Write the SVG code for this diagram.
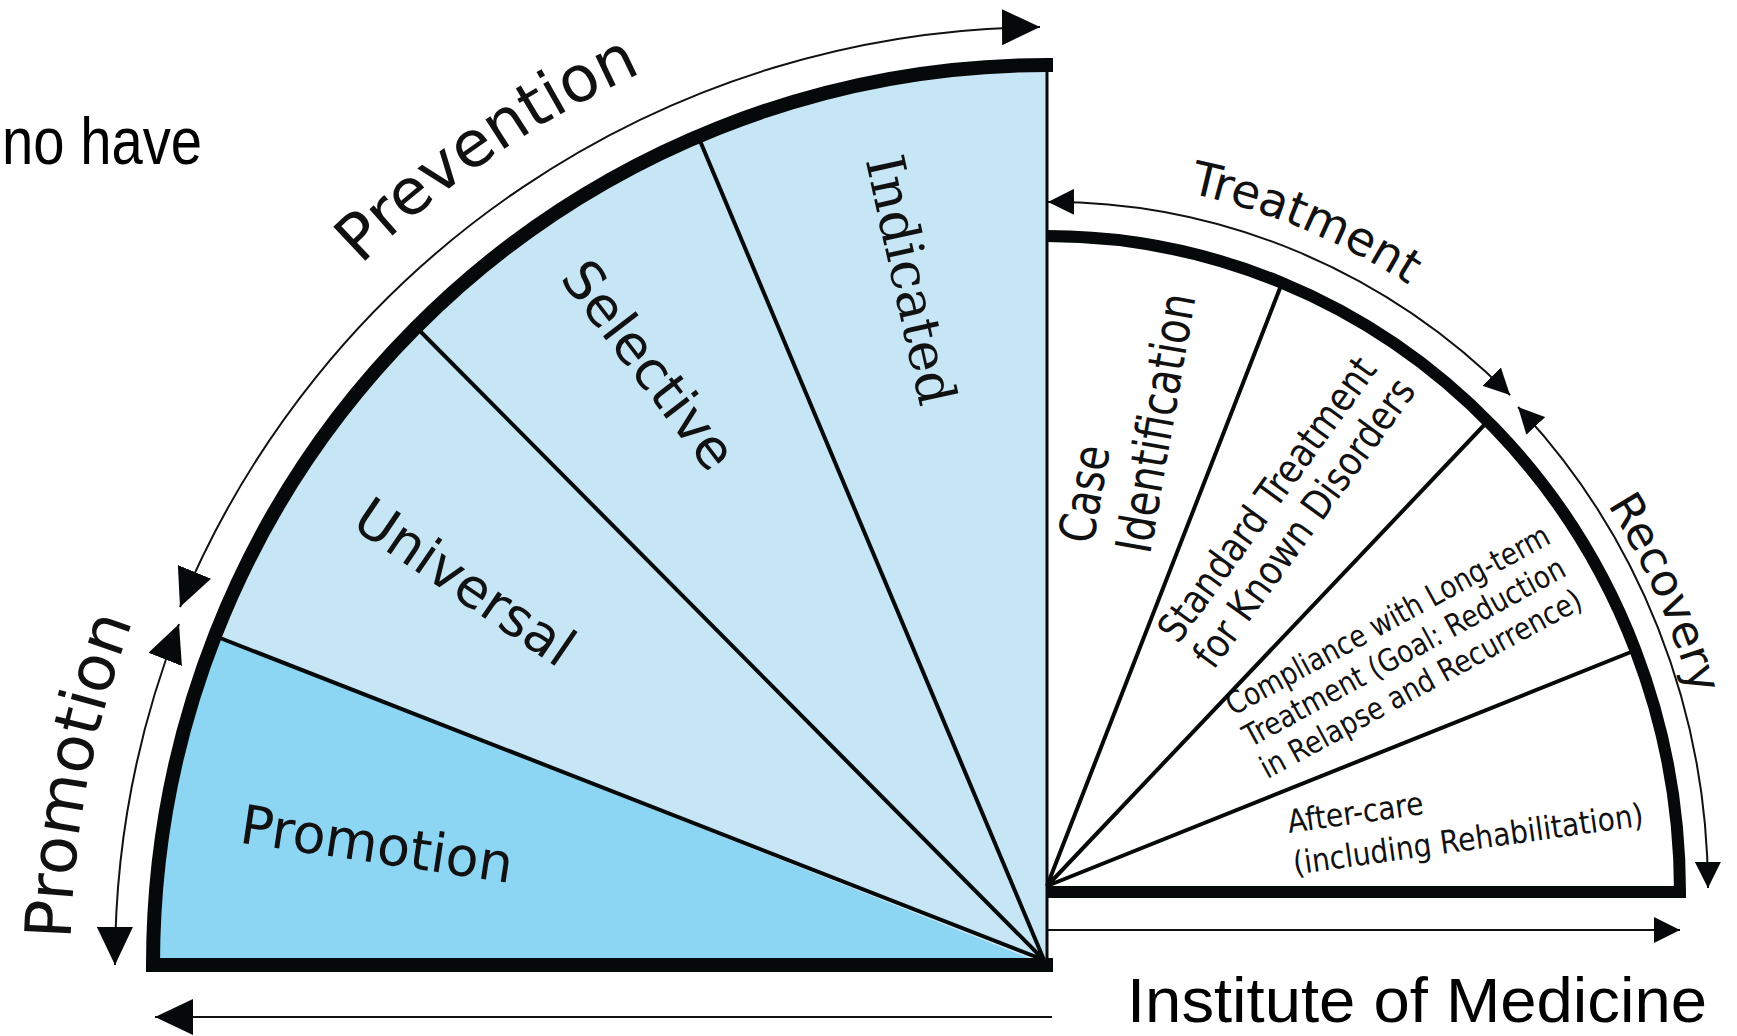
<svg xmlns="http://www.w3.org/2000/svg" xmlns:xlink="http://www.w3.org/1999/xlink" width="1737" height="1036" viewBox="0 0 1737 1036">
<defs>
<style>
.light{fill:#c6e6f6}
.promo{fill:#8cd5f3}
.white{fill:#ffffff}
.thick{fill:none;stroke:#060909;stroke-linejoin:miter;stroke-linecap:butt}
.div{fill:none;stroke:#060909;stroke-width:4}
.thin{fill:none;stroke:#111111;stroke-width:2}
.lbl{font-family:"DejaVu Sans",Verdana,sans-serif;fill:#111111}
.serif{font-family:"DejaVu Serif",serif;fill:#111111}
.slide{font-family:"Liberation Sans",Arial,sans-serif;fill:#000000}
.big{marker-start:url(#ahBig);marker-end:url(#ahBig)}
.small{marker-start:url(#ahSmall);marker-end:url(#ahSmall)}
</style>
<marker id="ahBig" markerUnits="userSpaceOnUse" viewBox="0 0 38 36" markerWidth="38" markerHeight="36" refX="38" refY="18" orient="auto-start-reverse">
<path d="M0,0 L38,18 L0,36 Z" fill="#060909"/>
</marker>
<marker id="ahSmall" markerUnits="userSpaceOnUse" viewBox="0 0 26 26" markerWidth="26" markerHeight="26" refX="26" refY="13" orient="auto-start-reverse">
<path d="M0,0 L26,13 L0,26 Z" fill="#060909"/>
</marker>
<path id="pPrev" d="M361,265 A980,980 0 0 1 1047,-15" fill="none"/>
<path id="pPromo" d="M70.6,939.4 A977,977 0 0 1 298.8,337.2" fill="none"/>
<path id="pTreat" d="M1189,193 A686,715 0 0 1 1733,892" fill="none"/>
<path id="pRec" d="M1607.3,505 A672,701 0 0 1 1719,892" fill="none"/>
</defs>
<rect x="0" y="0" width="1737" height="1036" fill="#ffffff"/>

<text class="slide" x="2" y="164" font-size="66" textLength="200" lengthAdjust="spacingAndGlyphs">no have</text>

<g id="promotion">
<path class="promo" d="M1047,965 L153,965 A894,900 0 0 1 215,636 Z"/>
<text class="lbl" font-size="54" text-anchor="middle" dy="0.35em" transform="translate(377,844) rotate(8.5)">Promotion</text>
</g>
<g id="universal">
<path class="light" d="M1047,965 L215,636 A894,900 0 0 1 416,327 Z"/>
<text class="lbl" font-size="54" text-anchor="middle" dy="0.35em" transform="translate(465,582) rotate(34.3)">Universal</text>
</g>
<g id="selective">
<path class="light" d="M1047,965 L416,327 A894,900 0 0 1 698,136 Z"/>
<text class="lbl" font-size="54" text-anchor="middle" dy="0.35em" transform="translate(649,365) rotate(52.5)">Selective</text>
</g>
<g id="indicated">
<path class="light" d="M1047,965 L698,136 A894,900 0 0 1 1047,65 Z"/>
<text class="serif" font-size="53" text-anchor="middle" dy="0.35em" transform="translate(911,280) rotate(77.5)">Indicated</text>
</g>

<g id="case-identification">
<path class="white" d="M1047,892 L1047,236 A633,656 0 0 1 1282,283 Z"/>
<text class="lbl" font-size="50" transform="translate(1093,545) rotate(-80) scale(0.8,1)"><tspan x="0" y="0">Case</tspan><tspan x="0" y="58">Identification</tspan></text>
</g>
<g id="standard-treatment">
<path class="white" d="M1047,892 L1282,283 A633,656 0 0 1 1488,421 Z"/>
<text class="lbl" font-size="40" transform="translate(1178,645) rotate(-54) scale(0.855,1)"><tspan x="0" y="0">Standard Treatment</tspan><tspan x="0" y="44">for Known Disorders</tspan></text>
</g>
<g id="compliance">
<path class="white" d="M1047,892 L1488,421 A633,656 0 0 1 1631,652 Z"/>
<text class="lbl" font-size="31" transform="translate(1233,716) rotate(-28.5) scale(0.85,1)"><tspan x="0" y="0">Compliance with Long-term</tspan><tspan x="0" y="36">Treatment (Goal: Reduction</tspan><tspan x="0" y="72">in Relapse and Recurrence)</tspan></text>
</g>
<g id="after-care">
<path class="white" d="M1047,892 L1631,652 A633,656 0 0 1 1680,892 Z"/>
<text class="lbl" font-size="32" transform="translate(1289,833) rotate(-8) scale(0.88,1)"><tspan x="0" y="0">After-care</tspan><tspan x="0" y="42">(including Rehabilitation)</tspan></text>
</g>

<g id="frame">
<path class="div" d="M1044,960 L215,636 M1044,960 L416,327 M1044,960 L698,136"/>
<path class="div" stroke-width="3.5" d="M1047,886 L1282,283 M1047,886 L1488,421 M1047,886 L1631,652"/>
<path d="M1047,65 L1047,966" stroke="#060909" stroke-width="3" fill="none"/>
<path class="thick" stroke-width="14" d="M1053,965 L153,965 A894,900 0 0 1 1047,65 L1053,65"/>
<path class="thick" stroke-width="12" d="M1047,236 A633,656 0 0 1 1680,892 L1047,892"/>
</g>

<g id="connectors">
<path class="thin big" d="M180,607 A938,938 0 0 1 1040,27"/>
<path class="thin big" d="M179,624 A932,932 0 0 0 115,965"/>
<path class="thin" marker-end="url(#ahBig)" d="M1052,1017 L155,1017"/>
<path class="thin small" d="M1048,202 A661,690 0 0 1 1510,395"/>
<path class="thin small" d="M1518,407 A661,690 0 0 1 1708,888"/>
<path class="thin" marker-end="url(#ahSmall)" d="M1047,930 L1680,930"/>
</g>

<g id="arrow-labels">
<text class="lbl" font-size="64"><textPath xlink:href="#pPrev">Prevention</textPath></text>
<text class="lbl" font-size="64"><textPath xlink:href="#pPromo">Promotion</textPath></text>
<text class="lbl" font-size="47"><textPath xlink:href="#pTreat">Treatment</textPath></text>
<text class="lbl" font-size="45"><textPath xlink:href="#pRec">Recovery</textPath></text>
</g>

<text class="slide" x="1127" y="1022" font-size="63" textLength="580" lengthAdjust="spacingAndGlyphs">Institute of Medicine</text>
</svg>
